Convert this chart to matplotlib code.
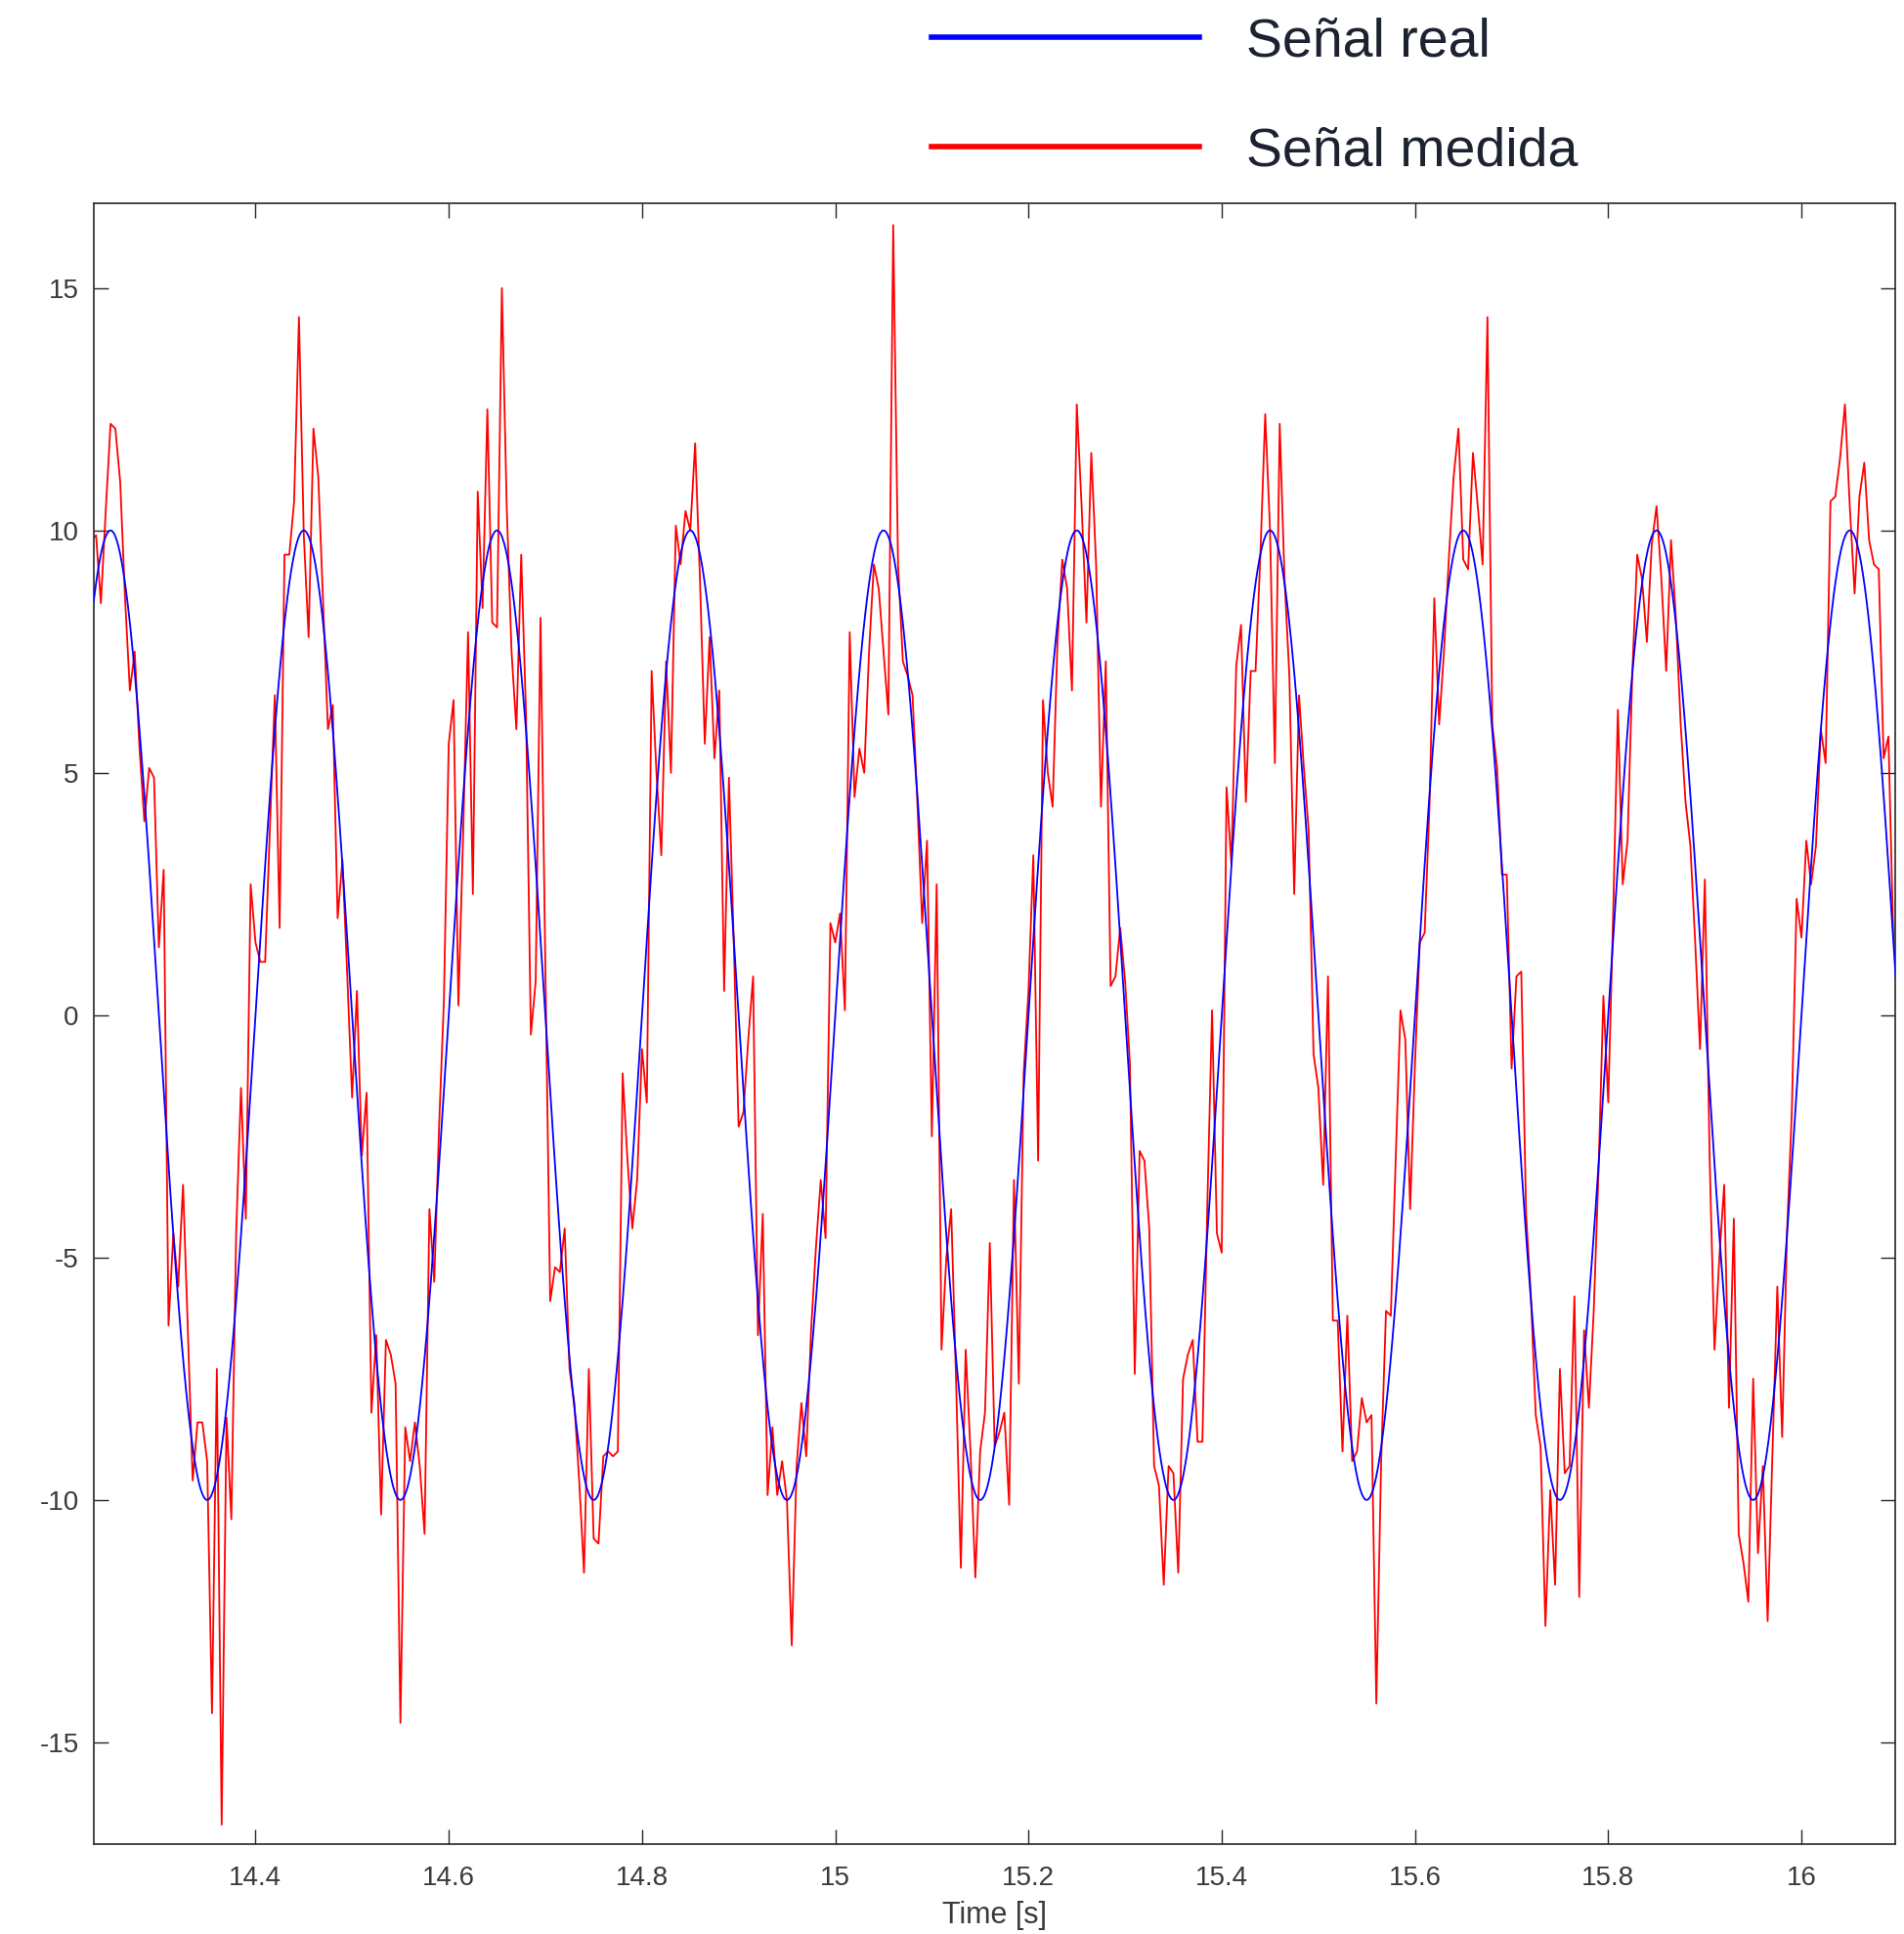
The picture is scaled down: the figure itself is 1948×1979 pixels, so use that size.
import numpy as np
import matplotlib
matplotlib.use("Agg")
import matplotlib.pyplot as plt
from matplotlib.lines import Line2D

# ---------------- data ----------------
# "Señal medida": sampled every 5 ms starting at t = 14.23 s
measured_t_start = 14.23
measured_sample_period = 0.005
measured = [
    9.8, 9.9, 8.5, 10.4, 12.2, 12.1, 11.0, 8.6, 6.7, 7.5,
    5.5, 4.0, 5.1, 4.9, 1.4, 3.0, -6.4, -4.5, -5.6, -3.5,
    -6.5, -9.6, -8.4, -8.4, -9.2, -14.4, -7.3, -16.7, -8.3, -10.4,
    -4.5, -1.5, -4.2, 2.7, 1.5, 1.1, 1.1, 3.9, 6.6, 1.8,
    9.5, 9.5, 10.6, 14.4, 9.9, 7.8, 12.1, 11.1, 8.5, 5.9,
    6.4, 2.0, 3.2, 0.8, -1.7, 0.5, -2.9, -1.6, -8.2, -6.6,
    -10.3, -6.7, -7.0, -7.6, -14.6, -8.5, -9.2, -8.4, -9.3, -10.7,
    -4.0, -5.5, -2.3, 0.3, 5.6, 6.5, 0.2, 3.8, 7.9, 2.5,
    10.8, 8.4, 12.5, 8.1, 8.0, 15.0, 10.5, 7.5, 5.9, 9.5,
    6.2, -0.4, 0.7, 8.2, 1.0, -5.9, -5.2, -5.3, -4.4, -7.3,
    -8.0, -9.6, -11.5, -7.3, -10.8, -10.9, -9.1, -9.0, -9.1, -9.0,
    -1.2, -3.0, -4.4, -3.4, -0.7, -1.8, 7.1, 5.0, 3.3, 7.3,
    5.0, 10.1, 9.3, 10.4, 10.0, 11.8, 9.0, 5.6, 7.8, 5.3,
    6.7, 0.5, 4.9, 1.5, -2.3, -2.0, -0.5, 0.8, -6.6, -4.1,
    -9.9, -8.5, -9.9, -9.2, -10.0, -13.0, -9.3, -8.0, -9.1, -6.5,
    -4.8, -3.4, -4.6, 1.9, 1.5, 2.1, 0.1, 7.9, 4.5, 5.5,
    5.0, 7.5, 9.3, 8.8, 7.5, 6.2, 16.3, 9.3, 7.3, 7.0,
    6.6, 4.4, 1.9, 3.6, -2.5, 2.7, -6.9, -5.0, -4.0, -7.5,
    -11.4, -6.9, -9.0, -11.6, -9.0, -8.2, -4.7, -8.9, -8.6, -8.2,
    -10.1, -3.4, -7.6, -1.2, 0.5, 3.3, -3.0, 6.5, 5.0, 4.3,
    7.7, 9.4, 8.8, 6.7, 12.6, 10.5, 8.1, 11.6, 9.3, 4.3,
    7.3, 0.6, 0.8, 1.8, 0.7, -1.0, -7.4, -2.8, -3.0, -4.4,
    -9.3, -9.7, -11.75, -9.3, -9.45, -11.5, -7.5, -7.0, -6.7, -8.8,
    -8.8, -4.0, 0.1, -4.5, -4.9, 4.7, 3.1, 7.2, 8.05, 4.4,
    7.1, 7.1, 9.5, 12.4, 10.0, 5.2, 12.2, 9.0, 7.0, 2.5,
    6.6, 5.1, 3.8, -0.8, -1.5, -3.5, 0.8, -6.3, -6.3, -9.0,
    -6.2, -9.2, -9.0, -7.9, -8.4, -8.25, -14.2, -9.2, -6.1, -6.2,
    -3.0, 0.1, -0.5, -4.0, -1.0, 1.5, 1.7, 4.3, 8.6, 6.0,
    7.5, 9.4, 11.1, 12.1, 9.4, 9.2, 11.6, 10.5, 9.3, 14.4,
    6.0, 5.1, 2.9, 2.9, -1.1, 0.8, 0.9, -4.1, -5.8, -8.25,
    -8.9, -12.6, -9.8, -11.75, -7.3, -9.45, -9.3, -5.8, -12.0, -6.5,
    -8.1, -6.1, -3.2, 0.4, -1.8, 2.0, 6.3, 2.7, 3.6, 7.1,
    9.5, 9.0, 7.7, 9.7, 10.5, 9.0, 7.1, 9.8, 8.2, 6.0,
    4.4, 3.5, 1.5, -0.7, 2.8, -3.0, -6.9, -5.0, -3.5, -8.1,
    -4.2, -10.7, -11.3, -12.1, -7.5, -11.1, -9.3, -12.5, -9.0, -5.6,
    -8.7, -4.5, -2.0, 2.4, 1.6, 3.6, 2.7, 3.5, 5.9, 5.2,
    10.6, 10.7, 11.5, 12.6, 10.5, 8.7, 10.7, 11.4, 9.8, 9.3,
    9.2, 5.3, 5.75, 1.6,
]

# "Señal real": a clean sinusoid (amplitude and frequency)
real_amplitude = 10.0
real_frequency_hz = 5.0
real_t_range = (14.23, 16.10)

legend_labels = ["Señal real", "Señal medida"]
x_label = "Time [s]"
x_ticks = [14.4, 14.6, 14.8, 15.0, 15.2, 15.4, 15.6, 15.8, 16.0]
x_tick_labels = ["14.4", "14.6", "14.8", "15", "15.2", "15.4", "15.6", "15.8", "16"]
y_ticks = [-15, -10, -5, 0, 5, 10, 15]
y_tick_labels = ["-15", "-10", "-5", "0", "5", "10", "15"]
x_limits = (14.2327, 16.097)
y_limits = (-17.1, 16.75)

# ---------------- figure ----------------
W, H = 1948, 1979
FONT = ["Liberation Sans", "DejaVu Sans"]
plt.rcParams["font.family"] = FONT

fig = plt.figure(figsize=(W / 100, H / 100), dpi=100)
fig.patch.set_facecolor("white")

left, right, top, bottom = 96, 1939, 208, 1887
ax = fig.add_axes([left / W, 1 - bottom / H, (right - left) / W, (bottom - top) / H])

t_meas = measured_t_start + measured_sample_period * np.arange(len(measured))
t_real = np.linspace(real_t_range[0], real_t_range[1], 3000)
real = real_amplitude * np.sin(2 * np.pi * real_frequency_hz * t_real)

ax.plot(t_meas, measured, color="#ff0000", lw=1.3, zorder=2)
ax.plot(t_real, real, color="#0000ff", lw=1.3, zorder=3)

ax.set_xlim(*x_limits)
ax.set_ylim(*y_limits)
ax.set_xticks(x_ticks)
ax.set_xticklabels(x_tick_labels)
ax.set_yticks(y_ticks)
ax.set_yticklabels(y_tick_labels)

frame_color = "#262626"
for s in ax.spines.values():
    s.set_color(frame_color)
    s.set_linewidth(1.2)
ax.tick_params(axis="both", which="both", direction="in", length=11, width=1.0,
               color=frame_color, labelcolor="#3a3a3a", labelsize=20,
               top=True, right=True)
ax.tick_params(axis="x", pad=16)
ax.tick_params(axis="y", pad=11)

ax.set_xlabel(x_label, fontsize=22, color="#3a3a3a", labelpad=7)

handles = [Line2D([], [], color="#0000ff", lw=4.0),
           Line2D([], [], color="#ff0000", lw=4.0)]
fig.legend(handles, legend_labels, loc="upper left",
           bbox_to_anchor=(953 / W, 1 - 17 / H), frameon=False,
           fontsize=40, handlelength=4.93, handletextpad=0.87,
           labelspacing=1.09, borderpad=0, borderaxespad=0,
           labelcolor="#1c2230")

fig.savefig("out.png", dpi=100, facecolor="white")
